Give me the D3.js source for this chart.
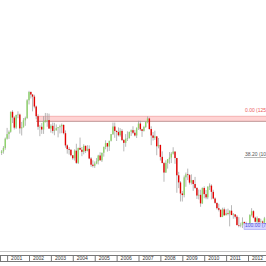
<!DOCTYPE html>
<html>
<head>
<meta charset="utf-8">
<script src="https://cdn.jsdelivr.net/npm/d3@7"></script>
<style>
  html, body { margin: 0; padding: 0; background: #fff; }
  svg { display: block; font-family: "Liberation Sans", Arial, sans-serif; }
</style>
</head>
<body>
<div id="chart"></div>
<script>
// monthly candles, first month then OHLC series
var firstMonth = "2000-10";
var opens = [108.2, 108.9, 110.4,
  114.4, 116.4, 117.4, 126.1, 123.6, 119.2, 124.7, 124.9, 118.9, 119.4, 122.4, 123.4,
  131.1, 134.7, 133.6, 132.7, 128.4, 124.2, 119.6, 119.6, 118.4, 121.8, 122.5, 122.5,
  118.8, 120.0, 117.8, 118.1, 119.0, 119.4, 119.8, 120.4, 116.8, 111.5, 109.9, 109.6,
  107.2, 105.9, 109.2, 103.9, 110.4, 109.6, 108.7, 111.3, 109.1, 110.0, 105.8, 103.1,
  102.6, 103.6, 104.6, 107.1, 105.0, 108.3, 110.8, 112.5, 111.0, 113.5, 116.4, 119.7,
  117.8, 117.3, 115.9, 117.8, 113.8, 112.6, 114.4, 114.7, 117.4, 118.1, 117.0, 115.8,
  119.0, 121.0, 118.5, 117.8, 119.5, 121.7, 123.2, 118.6, 115.8, 114.8, 115.4, 111.1,
  111.7, 106.5, 103.8, 99.7, 103.9, 105.5, 106.2, 107.9, 108.8, 106.0, 98.5, 95.4,
  90.6, 89.9, 97.6, 98.9, 98.6, 95.3, 96.4, 94.7, 93.0, 89.7, 90.0, 86.3,
  93.0, 90.3, 88.9, 93.5, 94.0, 91.3, 88.4, 86.5, 84.2, 83.5, 80.4, 83.7,
  81.1, 82.0, 81.8, 83.1, 81.2, 81.5, 80.5, 76.8, 76.7, 77.0, 78.2, 77.6,
  76.9, 76.3, 81.2, 82.9, 80.1, 78.3, 79.8, 78.1, 78.4, 77.9];
var highs = [109.5, 111.2, 114.9,
  119.1, 118.0, 126.2, 126.8, 124.2, 124.9, 126.3, 125.3, 121.7, 123.4, 124.0, 131.6,
  135.2, 135.0, 133.8, 133.5, 128.8, 125.0, 120.4, 121.2, 124.2, 125.6, 125.5, 125.3,
  120.7, 121.4, 121.3, 120.6, 119.4, 120.5, 121.0, 120.6, 118.0, 111.9, 110.7, 109.8,
  107.3, 109.8, 112.2, 110.5, 114.9, 110.8, 112.0, 111.4, 111.6, 111.5, 106.4, 105.0,
  104.5, 106.0, 107.4, 108.5, 108.3, 111.0, 113.7, 112.6, 113.5, 116.4, 121.4, 121.4,
  118.0, 119.3, 119.0, 118.6, 114.3, 116.4, 117.6, 117.4, 118.4, 119.8, 118.2, 119.4,
  122.2, 122.2, 118.7, 120.0, 121.9, 124.1, 123.6, 119.8, 117.3, 117.9, 115.6, 114.7,
  111.8, 108.9, 104.3, 105.0, 105.6, 108.6, 108.6, 110.7, 108.9, 106.1, 100.0, 96.0,
  91.7, 98.4, 99.7, 101.4, 99.0, 98.9, 96.5, 97.8, 93.3, 92.3, 92.2, 93.2,
  93.7, 92.1, 93.8, 95.0, 94.6, 92.2, 88.9, 86.6, 86.1, 83.7, 84.4, 84.5,
  83.7, 84.0, 83.3, 85.5, 82.1, 81.6, 81.2, 80.3, 77.9, 80.2, 78.4, 78.3,
  77.7, 81.6, 84.2, 83.3, 80.5, 80.6, 79.8, 79.6, 78.8, 80.4];
var lows = [107.3, 107.9, 109.6,
  114.0, 114.3, 117.0, 121.2, 118.4, 118.6, 123.3, 116.6, 115.8, 119.2, 120.0, 123.0,
  129.3, 131.9, 126.3, 127.6, 122.9, 118.3, 115.5, 116.5, 116.5, 121.4, 119.6, 118.7,
  117.0, 116.7, 115.9, 117.8, 115.0, 116.7, 116.8, 116.3, 110.5, 107.9, 107.5, 106.7,
  105.2, 104.9, 103.4, 103.4, 109.6, 106.8, 107.6, 108.2, 108.9, 105.5, 102.2, 101.9,
  101.7, 103.3, 103.2, 104.9, 104.3, 106.6, 109.8, 108.8, 109.1, 113.2, 116.0, 114.8,
  113.4, 115.4, 115.3, 113.4, 108.9, 110.9, 113.4, 114.4, 115.6, 116.4, 115.4, 114.7,
  118.2, 117.8, 115.2, 117.5, 119.1, 121.1, 118.3, 111.6, 113.6, 113.9, 107.2, 110.2,
  104.9, 103.8, 95.7, 99.5, 101.4, 103.5, 103.8, 107.5, 103.5, 90.9, 92.9, 87.1,
  87.1, 88.9, 93.5, 96.4, 94.5, 94.5, 91.7, 92.6, 88.2, 88.0, 84.8, 86.0,
  88.5, 88.1, 88.1, 92.1, 88.0, 88.1, 86.1, 83.6, 82.8, 80.2, 80.3, 80.9,
  81.2, 81.1, 76.3, 81.3, 79.6, 79.7, 76.9, 75.9, 75.9, 75.56, 76.7, 76.6,
  76.0, 76.1, 80.6, 79.8, 78.0, 77.7, 77.9, 77.9, 77.1, 77.8];
var closes = [108.9, 110.4, 114.4,
  116.4, 117.4, 126.1, 123.6, 119.2, 124.7, 124.9, 118.9, 119.4, 122.4, 123.4, 131.1,
  134.7, 133.6, 132.7, 128.4, 124.2, 119.6, 119.6, 118.4, 121.8, 122.5, 122.5, 118.8,
  120.0, 117.8, 118.1, 119.0, 119.4, 119.8, 120.4, 116.8, 111.5, 109.9, 109.6, 107.2,
  105.9, 109.2, 103.9, 110.4, 109.6, 108.7, 111.3, 109.1, 110.0, 105.8, 103.1, 102.6,
  103.6, 104.6, 107.1, 105.0, 108.3, 110.8, 112.5, 111.0, 113.5, 116.4, 119.7, 117.8,
  117.3, 115.9, 117.8, 113.8, 112.6, 114.4, 114.7, 117.4, 118.1, 117.0, 115.8, 119.0,
  121.0, 118.5, 117.8, 119.5, 121.7, 123.2, 118.6, 115.8, 114.8, 115.4, 111.1, 111.7,
  106.5, 103.8, 99.7, 103.9, 105.5, 106.2, 107.9, 108.8, 106.0, 98.5, 95.4, 90.6,
  89.9, 97.6, 98.9, 98.6, 95.3, 96.4, 94.7, 93.0, 89.7, 90.0, 86.3, 93.0,
  90.3, 88.9, 93.5, 94.0, 91.3, 88.4, 86.5, 84.2, 83.5, 80.4, 83.7, 81.1,
  82.0, 81.8, 83.1, 81.2, 81.5, 80.5, 76.8, 76.7, 77.0, 78.2, 77.6, 76.9,
  76.3, 81.2, 82.9, 80.1, 78.3, 79.8, 78.1, 78.4, 77.9, 79.8];

var years = [2001, 2002, 2003, 2004, 2005, 2006, 2007, 2008, 2009, 2010, 2011, 2012];

// fibonacci retracement drawn from the high to the 2011 low
var fibHigh = 125.54;
var fibLow = 75.56;
var fibLevels = [0, 38.2, 100];
var fibLabels = ["0.00 (125.54)", "38.20 (106.45)", "100.00 (75.56)"];

// resistance zone rectangle
var zoneTop = 124.14;
var zoneBottom = 121.95;
var zoneStart = "2002-05";

function init() {
    var w = 266;
    var h = 266;
    var parseMonth = d3.timeParse("%Y-%m");

    var start = parseMonth(firstMonth);
    var months = d3.range(opens.length).map(function (i) {
        return d3.timeMonth.offset(start, i);
    });
    var candles = months.map(function (d, i) {
        return { date: d, o: opens[i], h: highs[i], l: lows[i], c: closes[i] };
    });

    var x = d3.scaleTime()
        .domain([new Date(2002, 0, 1), new Date(2012, 0, 1)])
        .range([29, 248]);

    var y = d3.scaleLinear()
        .domain([65.15, 174.7])
        .range([252, 0]);

    var svg = d3.select("#chart")
        .append("svg")
        .attr("width", w)
        .attr("height", h);

    svg.append("rect")
        .attr("width", w)
        .attr("height", h)
        .attr("fill", "#fff");

    // zone
    var zx = x(parseMonth(zoneStart));
    svg.append("rect")
        .attr("x", zx)
        .attr("y", y(zoneTop))
        .attr("width", w - zx + 5)
        .attr("height", y(zoneBottom) - y(zoneTop))
        .attr("fill", "#ffd3d3")
        .attr("stroke", "none");
    svg.append("line")
        .attr("x1", zx).attr("x2", w)
        .attr("y1", y(zoneTop)).attr("y2", y(zoneTop))
        .attr("stroke", "#f2a4a4")
        .attr("stroke-width", 0.8);
    svg.append("line")
        .attr("x1", zx).attr("x2", w)
        .attr("y1", y(zoneBottom)).attr("y2", y(zoneBottom))
        .attr("stroke", "#b08080")
        .attr("stroke-width", 0.8);

    // candles
    var bw = 1.4;
    var g = svg.append("g");

    g.selectAll("line.wick")
        .data(candles)
        .enter()
        .append("line")
        .attr("class", "wick")
        .attr("x1", function (d) { return x(d.date); })
        .attr("x2", function (d) { return x(d.date); })
        .attr("y1", function (d) { return y(d.h); })
        .attr("y2", function (d) { return y(d.l); })
        .attr("stroke", "#9a9a9a")
        .attr("stroke-width", 0.7);

    g.selectAll("rect.body")
        .data(candles)
        .enter()
        .append("rect")
        .attr("class", "body")
        .attr("x", function (d) { return x(d.date) - bw / 2; })
        .attr("y", function (d) { return y(Math.max(d.o, d.c)); })
        .attr("width", bw)
        .attr("height", function (d) {
            return Math.max(0.6, Math.abs(y(d.o) - y(d.c)));
        })
        .attr("fill", function (d) {
            return d.c >= d.o ? "#8ed46a" : "#e40000";
        });

    // fibonacci labels
    var fib = fibLevels.map(function (lv, i) {
        return { price: fibHigh - (fibHigh - fibLow) * lv / 100, text: fibLabels[i] };
    });

    var lab = svg.append("g")
        .attr("font-size", "5px");

    // 100% label sits in a highlighted box
    lab.append("rect")
        .attr("x", 244)
        .attr("y", y(fib[2].price) - 4.6)
        .attr("width", 26)
        .attr("height", 6)
        .attr("fill", "#d6d6ff")
        .attr("stroke", "#8f8fef")
        .attr("stroke-width", 0.5);

    lab.append("line")
        .attr("x1", 244).attr("x2", w)
        .attr("y1", y(fib[1].price) + 0.5).attr("y2", y(fib[1].price) + 0.5)
        .attr("stroke", "#8a8a8a")
        .attr("stroke-width", 0.6);

    lab.selectAll("text")
        .data(fib)
        .enter()
        .append("text")
        .attr("x", 245)
        .attr("y", function (d) { return y(d.price) - 0.6; })
        .attr("fill", function (d, i) {
            return ["#ec5a5a", "#555", "#5555dd"][i];
        })
        .text(function (d) { return d.text; });

    // time axis band
    svg.append("line")
        .attr("x1", 0).attr("x2", w)
        .attr("y1", 251.5).attr("y2", 251.5)
        .attr("stroke", "#c8c8c8");

    var axis = d3.axisBottom(x)
        .tickValues(years.map(function (yr) { return new Date(yr, 0, 1); }))
        .tickFormat(d3.timeFormat("%Y"))
        .tickSize(6)
        .tickSizeOuter(0);

    var ax = svg.append("g")
        .attr("transform", "translate(0,255.5)")
        .call(axis);
    ax.select(".domain").remove();
    ax.selectAll(".tick line").attr("stroke", "#777");
    ax.selectAll(".tick text")
        .attr("x", 3.5)
        .attr("y", 3)
        .attr("dy", "0.35em")
        .attr("text-anchor", "start")
        .attr("font-size", "5px")
        .attr("font-family", "Liberation Sans, Arial, sans-serif")
        .attr("fill", "#333");

    svg.append("line")
        .attr("x1", 0).attr("x2", w)
        .attr("y1", 255.5).attr("y2", 255.5)
        .attr("stroke", "#777");
    svg.append("line")
        .attr("x1", 0).attr("x2", w)
        .attr("y1", 261.5).attr("y2", 261.5)
        .attr("stroke", "#777");
    svg.append("line")
        .attr("x1", 0.5).attr("x2", 0.5)
        .attr("y1", 255.5).attr("y2", 261.5)
        .attr("stroke", "#777");
}
window.onload = init;
</script>
</body>
</html>
